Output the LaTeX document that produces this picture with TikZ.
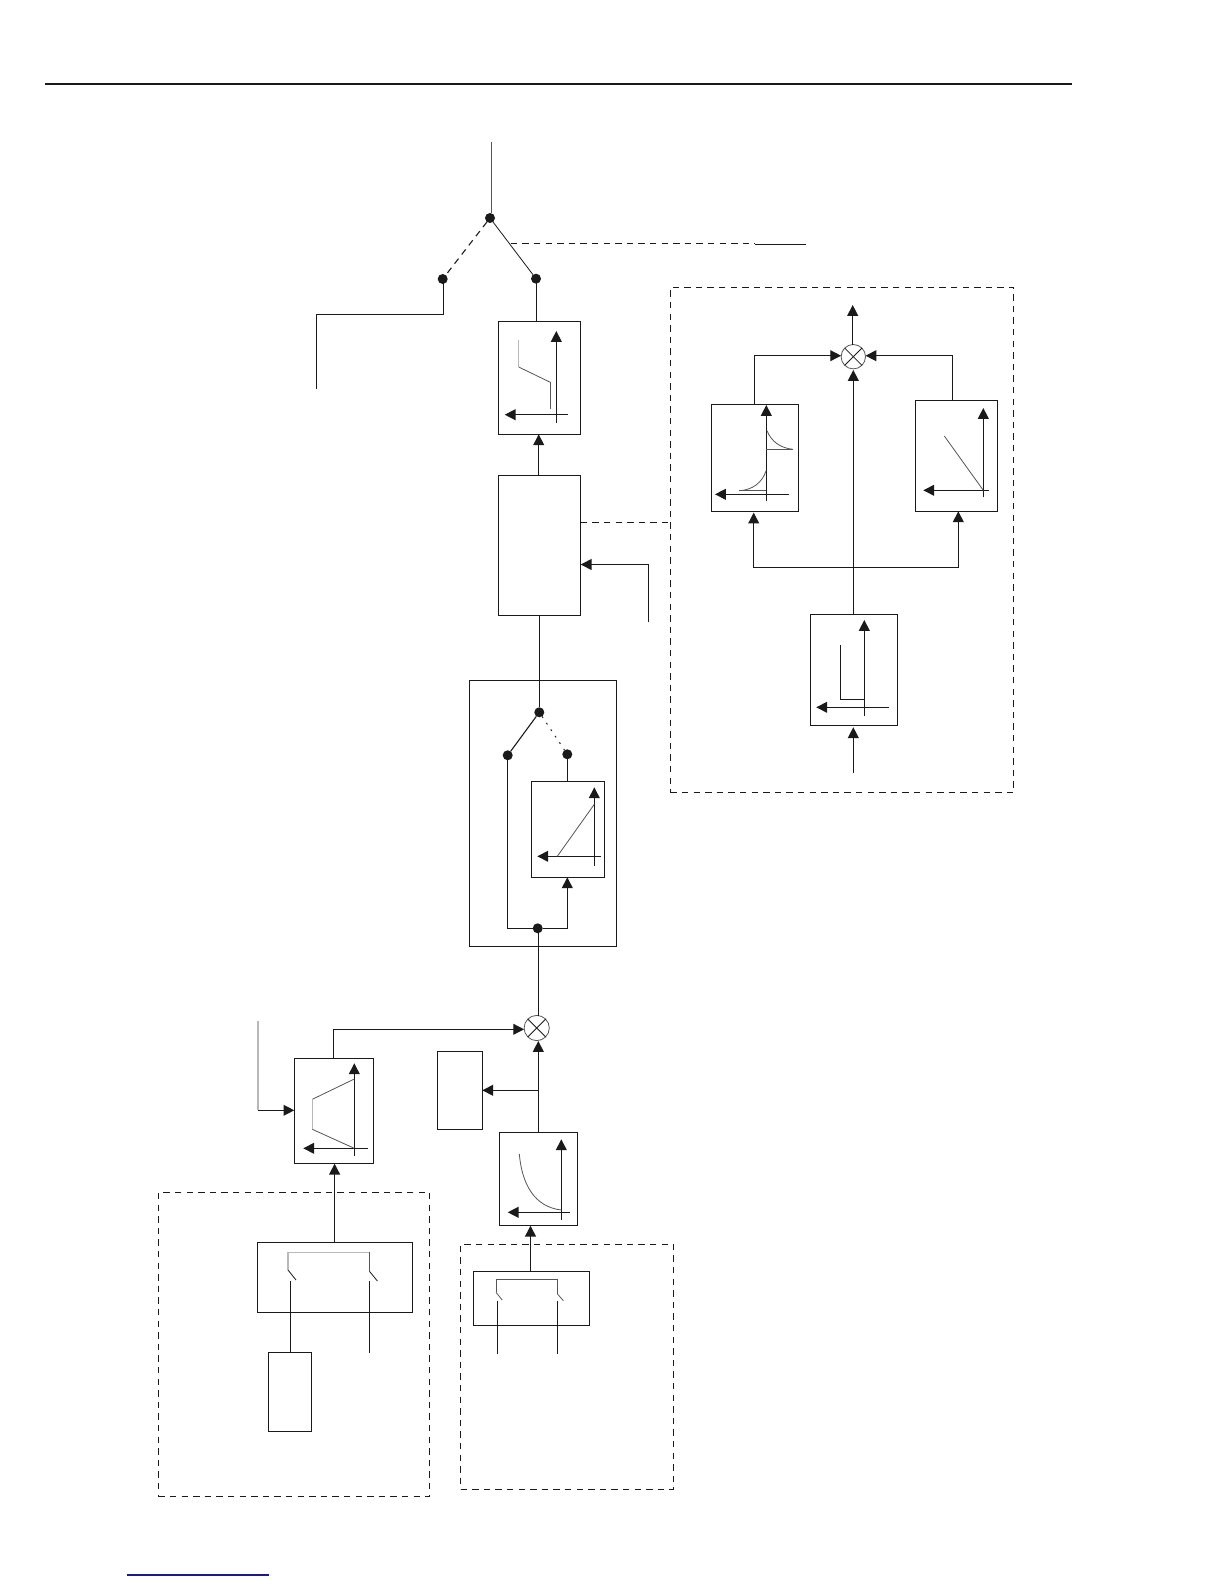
\documentclass[tikz,border=0pt]{standalone}
\usetikzlibrary{arrows.meta}
\definecolor{ink}{HTML}{1A1A1A}
\definecolor{thinink}{HTML}{555555}
\definecolor{paleink}{HTML}{B8B8B8}
\definecolor{linkblue}{HTML}{1A1A8C}
\tikzset{
  wire/.style={draw=ink,line width=0.65pt},
  arr/.style={wire,-{Triangle[length=5.4pt,width=5.4pt]}},
  thin curve/.style={draw=thinink,line width=0.4pt},
  pale curve/.style={draw=paleink,line width=0.6pt},
  blk/.style={draw=ink,line width=0.65pt,rectangle,inner sep=0pt,outer sep=0pt,fill=none},
  dashbox/.style={draw=ink,line width=0.55pt,dash pattern=on 3.2pt off 2.6pt,rectangle,inner sep=0pt,outer sep=0pt},
  dot/.style={circle,fill=ink,draw=none,inner sep=0pt,minimum size=5pt,outer sep=0pt},
  summer/.style={circle,draw=thinink,line width=0.4pt,inner sep=0pt,outer sep=0pt,minimum size=12.2pt},
  dashwire/.style={draw=ink,line width=0.55pt,dash pattern=on 3.2pt off 2.6pt},
}
\newcommand{\boxat}[6][blk]{%
  \pgfmathsetmacro{\cxv}{(#3+#5)/2}\pgfmathsetmacro{\cyv}{(#4+#6)/2}%
  \pgfmathsetmacro{\wv}{(#5-#3)/2}\pgfmathsetmacro{\hv}{(#6-#4)/2}%
  \node[#1,minimum width=\wv pt,minimum height=\hv pt] (#2) at (\cxv,\cyv) {};}
\begin{document}
\begin{tikzpicture}[x=0.5pt,y=-0.5pt]
\useasboundingbox[fill=white] (0,0) rectangle (1224,1584);

% page rule and bottom link line
\coordinate (ruleL) at (45.4,83.8); \coordinate (ruleR) at (1071.5,83.8);
\draw[draw=ink,line width=1pt] (ruleL) -- (ruleR);
\coordinate (blueL) at (127,1575); \coordinate (blueR) at (269.2,1575);
\draw[draw=linkblue,line width=0.55pt] (blueL) -- (blueR);

% boxes
\boxat{A}{498.3}{321.3}{580.7}{434.3}
\boxat{B}{498.3}{475.3}{580.7}{615.3}
\boxat{C}{469.3}{680.3}{616.3}{946.3}
\boxat{E}{531.3}{781.3}{604.7}{877.3}
\boxat{F}{294.3}{1058.3}{373.7}{1163.7}
\boxat{G}{437.3}{1051.3}{482.3}{1129.3}
\boxat{H}{499.3}{1132.3}{577.3}{1225.3}
\boxat{I}{257.6}{1242.3}{412.7}{1312.3}
\boxat{K}{268.7}{1352.3}{311.8}{1431.3}
\boxat{M}{473.5}{1271.5}{589.6}{1325.5}
\boxat{PL}{711.3}{404.3}{798.3}{511.3}
\boxat{PR}{915.3}{400.3}{997.3}{511.3}
\boxat{PB}{810.3}{614.3}{897.3}{725.3}
\boxat[dashbox]{D}{670.3}{287.3}{1013.7}{792.3}
\boxat[dashbox]{J}{158.3}{1192.7}{429.8}{1496.3}
\boxat[dashbox]{L}{460.5}{1244.3}{673.7}{1489.3}

% top selector
\coordinate (topIn) at (491.3,142);
\node[dot] (d0) at (490,218) {};
\node[dot] (d1) at (442.7,279) {};
\node[dot] (d2) at (536,278.7) {};
\draw[draw=thinink,line width=0.55pt] (topIn) -- (topIn |- d0.north);
\draw[thin curve,draw=ink] (d0) -- (d2);
\draw[dashwire] (d0) -- (d1);
\coordinate (w1a) at (316.3,314.3); \coordinate (w1b) at (316.3,389);
\draw[wire] (443.3,279) -- (443.3,314.3) -- (w1a) -- (w1b);
\draw[wire] (536.5,279) -- (536.5,321.3);
\coordinate (ctlA) at (510.7,243.3); \coordinate (ctlB) at (755.3,243.3);
\coordinate (ctlC) at (755.3,244.6); \coordinate (ctlD) at (805.7,244.6);
\draw[dashwire] (ctlA) -- (ctlB);
\draw[wire,line width=0.55pt] (ctlC) -- (ctlD);

% box A plot
\draw[arr] (556.3,422.7) -- (556.3,331);
\draw[arr] (568,414.7) -- (504.7,414.7);
\draw[pale curve] (518.7,340) -- (518.7,367);
\draw[thin curve] (518.7,367) -- (550.3,382.3);
\draw[thin curve] (550.3,382.3) -- (550.3,408.7);

% B to A
\coordinate (bTop) at (538.7,475.3);
\draw[arr] (bTop) -- (bTop |- A.south);
% B side lines
\coordinate (sideIn) at (648.7,621.7);
\draw[arr] (sideIn) -- (648.7,564.5) -- (B.east |- 648.7,564.5);
\draw[dashwire] (B.east |- 0,522.3) -- (D.west |- 0,522.3);
% B to C
\node[dot] (c0) at (539.3,712.3) {};
\node[dot] (c1) at (507.7,755.3) {};
\node[dot] (c2) at (567.3,754.3) {};
\node[dot] (c3) at (537.7,928.3) {};
\draw[wire] (c0 |- B.south) -- (c0);
\draw[wire,line width=0.55pt] (c0) -- (c1);
\draw[draw=ink,line width=0.5pt,dash pattern=on 0.9pt off 3pt] (c0) -- (c2);
\draw[wire] (c1) -- (c1 |- c3) -- (c3);
\draw[wire] (c2) -- (c2 |- E.north);
\draw[arr] (c3) -- (c2 |- c3) -- (c2 |- E.south);
\draw[arr] (594.3,865.7) -- (594.3,787.3);
\draw[arr] (601,856.3) -- (537.3,856.3);
\draw[thin curve] (557.3,856.3) -- (594.3,804.3);

% main sum node
\node[summer,minimum size=12.6pt] (S1) at (536.7,1028) {};
\draw[thin curve,draw=ink] (S1.north west) -- (S1.south east);
\draw[thin curve,draw=ink] (S1.north east) -- (S1.south west);
\draw[wire] (c3.south -| 538.3,0) -- (538.3,1015.6);
\draw[arr] (333.3,1058.3) -- (333.3,1029.3) -- (S1.west |- 0,1029.3);
\draw[arr] (538.3,1132.3) -- (538.3,1041);
\draw[arr] (538.3,1090.3) -- (G.east |- 0,1090.3);

% box F
\coordinate (fIn) at (258,1021);
\draw[pale curve] (fIn) -- (258,1110.3);
\draw[arr] (258,1110.3) -- (F.west |- 0,1110.3);
\draw[arr] (354.3,1155.7) -- (354.3,1063.3);
\draw[arr] (368,1148.3) -- (303.3,1148.3);
\draw[thin curve] (354.3,1079) -- (312.3,1099.3);
\draw[pale curve] (312.3,1099.3) -- (312.3,1129.3);
\draw[thin curve] (312.3,1129.3) -- (354.3,1148.3);

% box H
\draw[arr] (561.3,1219.7) -- (561.3,1139.3);
\draw[arr] (569.7,1212.3) -- (507.7,1212.3);
\draw[thin curve] (519.3,1154) .. controls (522,1185) and (535,1207) .. (561.3,1210);

% I, K
\draw[arr] (334.6,1242.3) -- (334.6,1163.7);
\draw[pale curve] (288,1270) -- (288,1252.3) -- (369.8,1252.3);
\draw[thin curve] (369.8,1252.3) -- (369.8,1271.7);
\draw[thin curve,draw=ink] (288,1270) -- (296,1280);
\draw[thin curve,draw=ink] (369.8,1271.7) -- (377.4,1281);
\draw[wire,line width=0.5pt] (290.8,1281) -- (290.8,1352.3);
\coordinate (iOut) at (369.8,1352.7);
\draw[wire,line width=0.5pt] (369.8,1281) -- (iOut);

% M
\draw[arr] (530.5,1271.5) -- (530.5,1225.7);
\draw[thin curve] (496,1292.3) -- (496,1279.3) -- (557.5,1279.3) -- (557.5,1294);
\draw[thin curve] (496,1292.3) -- (502.2,1300);
\draw[thin curve] (557.5,1294) -- (563.4,1300.7);
\coordinate (m1) at (497.5,1354.3); \coordinate (m2) at (557.5,1354.3);
\draw[wire,line width=0.5pt] (497.5,1300.7) -- (m1);
\draw[wire,line width=0.5pt] (557.5,1300.7) -- (m2);

% right panel
\node[summer] (S2) at (853.3,356.7) {};
\draw[thin curve,draw=ink] (S2.north west) -- (S2.south east);
\draw[thin curve,draw=ink] (S2.north east) -- (S2.south west);
\coordinate (pOut) at (852.7,305);
\draw[arr] (S2.north -| pOut) -- (pOut);
\draw[arr] (754.3,404.3) -- (754.3,355.7) -- (S2.west |- 0,355.7);
\draw[arr] (952.5,400.3) -- (952.5,355.7) -- (S2.east |- 0,355.7);
\draw[arr] (853.3,614.3) -- (853.3,370);
\draw[arr] (853.3,567.3) -- (753.7,567.3) -- (753.7,512.6);
\draw[arr] (853.3,567.3) -- (958.3,567.3) -- (958.3,511.3);
\coordinate (pIn) at (853.3,773.3);
\draw[arr] (pIn) -- (853.3,727.2);

% PL plot
\draw[arr] (766.3,500.7) -- (766.3,405);
\draw[arr] (788.7,494.3) -- (715,494.3);
\draw[thin curve] (767,430.7) .. controls (771,441) and (780,448) .. (792.7,449.3);
\draw[thin curve] (766.3,449.3) -- (792.7,449.3);
\draw[thin curve] (739.3,490.7) .. controls (752,490) and (762,483) .. (766,471);
\draw[thin curve] (739.3,490.7) -- (766.3,490.7);
% PR plot
\draw[arr] (983.3,497.3) -- (983.3,408);
\draw[arr] (989,490.3) -- (923.3,490.3);
\draw[thin curve] (944.3,436) -- (983.3,490.3);
% PB plot
\draw[arr] (864.3,715.7) -- (864.3,620);
\draw[arr] (889,707.3) -- (816.3,707.3);
\draw[wire,line width=0.55pt] (840.3,645) -- (840.3,699.3) -- (864.3,699.3);
\end{tikzpicture}
\end{document}
